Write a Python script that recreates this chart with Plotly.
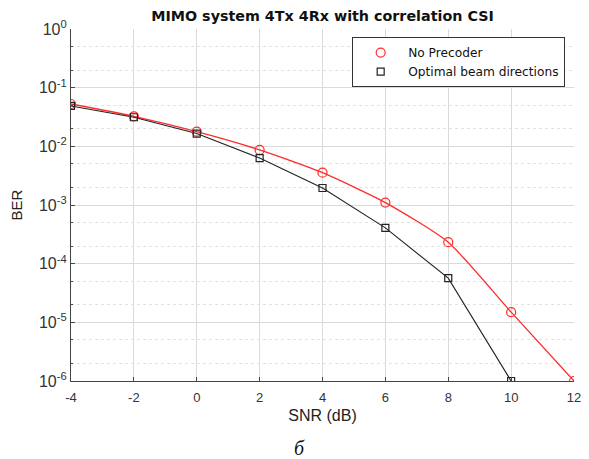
import plotly.graph_objects as go

snr = [-4, -2, 0, 2, 4, 6, 8, 10, 12]
ber_no_precoder = [0.0527, 0.0325, 0.0178, 0.0087, 0.00356, 0.0011, 2.32e-4, 1.49e-5, 1.0e-6]
snr_opt = [-4, -2, 0, 2, 4, 6, 8, 10]
ber_optimal = [0.0488, 0.0313, 0.0165, 0.0063, 0.00195, 4.07e-4, 5.66e-5, 1.0e-6]

x_ticks = [-4, -2, 0, 2, 4, 6, 8, 10, 12]
x_ticktext = ["-4", "-2", "0", "2", "4", "6", "8", "10", "12"]
y_tickvals = [1, 1e-1, 1e-2, 1e-3, 1e-4, 1e-5, 1e-6]
y_ticktext = ["10<sup>0</sup>", "10<sup>-1</sup>", "10<sup>-2</sup>", "10<sup>-3</sup>",
              "10<sup>-4</sup>", "10<sup>-5</sup>", "10<sup>-6</sup>"]

RED = "#ff2a2a"
BLACK = "#222222"
FONT = "Liberation Sans"

fig = go.Figure()
fig.add_trace(go.Scatter(x=snr, y=ber_no_precoder, mode="lines",
                         line=dict(color=RED, width=1.3, shape="spline", smoothing=0.6),
                         showlegend=False, hoverinfo="skip"))
fig.add_trace(go.Scatter(x=snr_opt, y=ber_optimal, mode="lines",
                         line=dict(color=BLACK, width=1.1),
                         showlegend=False, hoverinfo="skip"))
fig.add_trace(go.Scatter(x=snr, y=ber_no_precoder, mode="markers", name="No Precoder",
                         marker=dict(symbol="circle-open", size=9, color=RED,
                                     line=dict(width=1.2, color=RED))))
fig.add_trace(go.Scatter(x=snr_opt, y=ber_optimal, mode="markers", name="Optimal beam directions",
                         marker=dict(symbol="square-open", size=7, color=BLACK,
                                     line=dict(width=1.2, color=BLACK))))

fig.update_layout(
    width=581, height=451,
    paper_bgcolor="white", plot_bgcolor="white",
    margin=dict(l=63, r=15, t=21, b=78),
    font=dict(family=FONT, color="#333333", size=12),
    title=dict(text="<b>MIMO system 4Tx 4Rx with correlation CSI</b>",
               xref="paper", x=0.5, xanchor="center", y=0.982, yanchor="middle",
               font=dict(family="DejaVu Sans", size=14.3, color="#111111")),
    showlegend=True,
    legend=dict(x=0.559, y=0.977, xanchor="left", yanchor="top",
                bgcolor="white", bordercolor="#333333", borderwidth=1,
                font=dict(family="DejaVu Sans", size=12.2, color="#111111"),
                itemwidth=45, tracegroupgap=0),
    xaxis=dict(range=[-4, 12], tickvals=x_ticks, ticktext=x_ticktext, ticks="inside", ticklen=4,
               tickcolor="#444444", showline=True, linecolor="#444444", linewidth=1.2,
               showgrid=True, gridcolor="#dadada", gridwidth=1, zeroline=False,
               automargin=False, ticklabeloverflow="allow", ticklabelstandoff=4,
               title=dict(text="SNR (dB)", font=dict(family=FONT, size=16, color="#222222"), standoff=6),
               tickfont=dict(family=FONT, size=13, color="#333333")),
    yaxis=dict(type="log", range=[-6, 0], tickvals=y_tickvals, ticktext=y_ticktext,
               ticks="inside", ticklen=4, tickcolor="#444444",
               showline=True, linecolor="#444444", linewidth=1.2,
               showgrid=True, gridcolor="#dadada", gridwidth=1, zeroline=False,
               automargin=False, ticklabeloverflow="allow",
               minor=dict(ticks="inside", ticklen=2, tickcolor="#444444",
                          showgrid=True, gridcolor="#e2e2e2", griddash="dot", gridwidth=1),
               title=dict(text="BER", font=dict(family=FONT, size=15, color="#222222"), standoff=12),
               tickfont=dict(family=FONT, size=16, color="#333333")),
)

fig.add_annotation(text="<i>б</i>", xref="paper", yref="paper", x=0.455, y=-0.19,
                   xanchor="center", yanchor="middle", showarrow=False,
                   font=dict(family="Liberation Serif", size=20, color="#111111"))

fig.write_html("out.html")
